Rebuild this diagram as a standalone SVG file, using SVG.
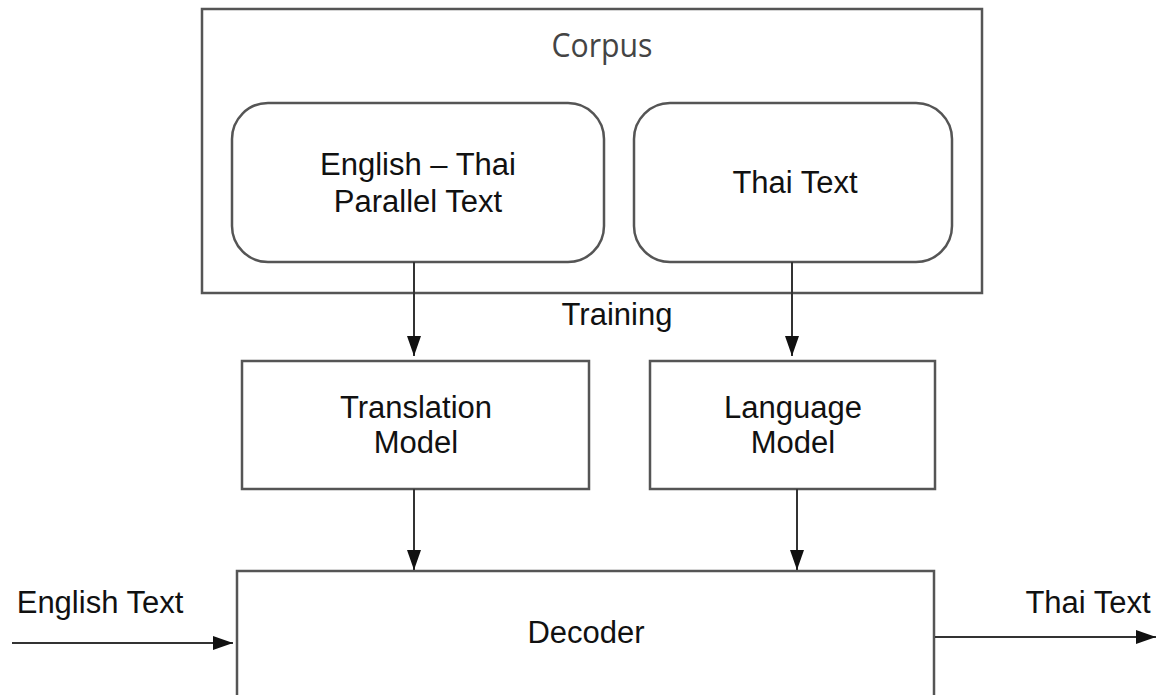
<svg xmlns="http://www.w3.org/2000/svg" width="1159" height="695" viewBox="0 0 1159 695">
<style>
.box{fill:#fff;stroke:#555;stroke-width:2.5}
.t{font-family:"Liberation Sans",Arial,sans-serif;font-size:31px;fill:#111;text-anchor:middle}
.c{stroke:#333;stroke-width:2;fill:none}
</style>
<defs>
<marker id="av" markerWidth="20" markerHeight="14" refX="20" refY="7" orient="auto" markerUnits="userSpaceOnUse">
<path d="M0,0 L20,7 L0,14 Z" fill="#111"/>
</marker>
</defs>
<rect width="1159" height="695" fill="#fff"/>
<g id="corpus">
<rect class="box" x="202" y="9" width="780" height="284"/>
<text x="602" y="57" font-family="'Open Sans','DejaVu Sans',sans-serif" font-size="33" fill="#444" text-anchor="middle" textLength="101" lengthAdjust="spacingAndGlyphs">Corpus</text>
</g>
<g id="parallel">
<rect class="box" x="232" y="103" width="372" height="159" rx="36" ry="36"/>
<text class="t" x="418" y="175">English – Thai</text>
<text class="t" x="418" y="212">Parallel Text</text>
</g>
<g id="thai">
<rect class="box" x="634" y="103" width="318" height="159" rx="36" ry="36"/>
<text class="t" x="795" y="193">Thai Text</text>
</g>
<g id="training-label">
<text class="t" x="617" y="325">Training</text>
</g>
<g id="translation">
<rect class="box" x="242" y="361" width="347" height="128"/>
<text class="t" x="416" y="418">Translation</text>
<text class="t" x="416" y="453">Model</text>
</g>
<g id="language">
<rect class="box" x="650" y="361" width="285" height="128"/>
<text class="t" x="793" y="418">Language</text>
<text class="t" x="793" y="453">Model</text>
</g>
<g id="decoder">
<rect class="box" x="237" y="571" width="697" height="140"/>
<text class="t" x="586" y="643">Decoder</text>
</g>
<g id="io-labels">
<text class="t" x="100" y="613">English Text</text>
<text class="t" x="1088" y="613">Thai Text</text>
</g>
<g id="connectors">
<line class="c" x1="414" y1="262" x2="414" y2="356" marker-end="url(#av)"/>
<line class="c" x1="792" y1="262" x2="792" y2="356" marker-end="url(#av)"/>
<line class="c" x1="414" y1="489" x2="414" y2="570" marker-end="url(#av)"/>
<line class="c" x1="797" y1="489" x2="797" y2="570" marker-end="url(#av)"/>
<line class="c" x1="12" y1="643" x2="233" y2="643" marker-end="url(#av)"/>
<line class="c" x1="935" y1="637" x2="1156" y2="637" marker-end="url(#av)"/>
</g>
</svg>
